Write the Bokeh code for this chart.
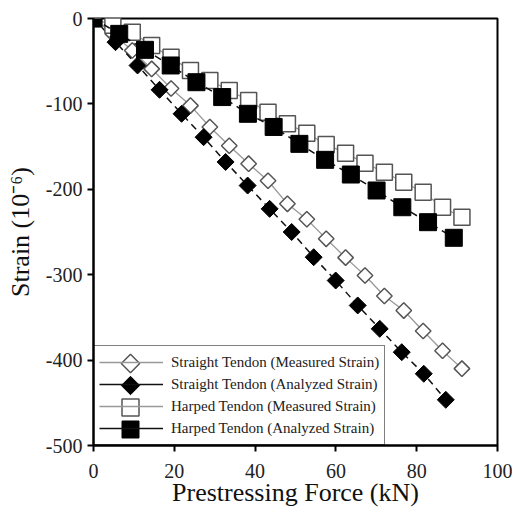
import math
from bokeh.plotting import figure
from bokeh.models import Range1d, Legend, LegendItem, FixedTicker
from bokeh.embed import file_html
from bokeh.resources import INLINE

# Straight tendon, measured strain
sm_x = [0, 4.8, 9.6, 14.4, 19.2, 24.0, 28.8, 33.6, 38.4, 43.2, 48.0, 52.8, 57.6, 62.4, 67.2, 72.0, 76.8, 81.6, 86.4, 91.2]
sm_y = [0, -18, -37.5, -59, -82, -102, -127, -149, -170, -190, -217, -235, -258, -280, -301, -325, -342, -366, -389, -410]

# Straight tendon, analyzed strain
sa_x = [0, 5.45, 10.9, 16.35, 21.8, 27.25, 32.7, 38.15, 43.6, 49.05, 54.5, 59.95, 65.4, 70.85, 76.3, 81.75, 87.2]
sa_y = [0, -27.7, -55, -83.5, -111.6, -139, -168, -195.6, -222.9, -250, -279.5, -306.8, -336, -363.4, -390.7, -416, -446.5]

# Harped tendon, measured strain
hm_x = [0, 4.8, 9.6, 14.4, 19.2, 24.0, 28.8, 33.6, 38.4, 43.2, 48.0, 52.8, 57.6, 62.4, 67.2, 72.0, 76.8, 81.6, 86.4, 91.2]
hm_y = [0, -8, -16, -31.6, -45.3, -61, -72.6, -84.3, -96, -109.7, -123.3, -134.3, -147.5, -157.7, -169.4, -180, -191.7, -203.4, -221, -232.7]

# Harped tendon, analyzed strain
ha_x = [0, 6.37, 12.74, 19.11, 25.48, 31.85, 38.22, 44.59, 50.96, 57.33, 63.7, 70.07, 76.44, 82.81, 89.18]
ha_y = [0, -18, -36.7, -55, -74.6, -92, -111.6, -127, -146.8, -165.5, -182.7, -201.4, -221, -238.5, -256.8]

x_ticks = [0, 20, 40, 60, 80, 100]
y_ticks = [0, -100, -200, -300, -400, -500]

labels = ["Straight Tendon (Measured Strain)", "Straight Tendon (Analyzed Strain)",
          "Harped Tendon (Measured Strain)", "Harped Tendon (Analyzed Strain)"]

FONT = "Liberation Serif"
FW, FH = 404, 427

p = figure(frame_width=FW, frame_height=FH, output_backend="svg", toolbar_location=None,
           x_range=Range1d(0, 100), y_range=Range1d(-500, 0),
           min_border_left=93, min_border_right=15, min_border_top=18, min_border_bottom=65)
p.grid.visible = False
p.outline_line_color = "black"
p.outline_line_width = 2

for ax in (p.xaxis[0], p.yaxis[0]):
    ax.axis_line_width = 2
    ax.major_tick_line_width = 2
    ax.major_tick_in = 0
    ax.major_tick_out = 6
    ax.minor_tick_line_color = None
    ax.major_label_text_font = FONT
    ax.major_label_text_font_size = "20px"
    ax.major_label_text_color = "#222222"
    ax.axis_label_text_font = FONT
    ax.axis_label_text_font_size = "26px"
    ax.axis_label_text_font_style = "normal"
    ax.axis_label_text_color = "#111111"

p.xaxis.ticker = FixedTicker(ticks=x_ticks)
p.yaxis.ticker = FixedTicker(ticks=y_ticks)
p.yaxis.major_label_overrides = {t: str(t) for t in y_ticks}
p.xaxis.major_label_standoff = 12
p.xaxis.axis_label = "Prestressing Force (kN)"
p.yaxis.axis_label = "Strain (10\u207b\u2076)"
p.xaxis.axis_label_standoff = -3
p.yaxis.axis_label_standoff = 8

ang = math.pi / 4

l1 = p.line(sm_x, sm_y, line_color="#999999", line_width=1.3)
m1 = p.scatter(sm_x, sm_y, marker="square", angle=ang, size=11, fill_color="white",
               line_color="#555555", line_width=1.5)

l2 = p.line(sa_x, sa_y, line_color="#111111", line_width=1.5, line_dash="7 5")
m2 = p.scatter(sa_x, sa_y, marker="square", angle=ang, size=12, fill_color="black",
               line_color="black", line_width=1)

l3 = p.line(hm_x, hm_y, line_color="#999999", line_width=1.3)
m3 = p.scatter(hm_x, hm_y, marker="square", size=16, fill_color="white",
               line_color="#555555", line_width=1.5)

l4 = p.line(ha_x, ha_y, line_color="#111111", line_width=1.5, line_dash="7 5")
m4 = p.scatter(ha_x, ha_y, marker="square", size=17, fill_color="black",
               line_color="black", line_width=1)

# solid-line legend proxy (single point: draws nothing in the plot)
pl2 = p.line(sa_x[:1], sa_y[:1], line_color="#111111", line_width=1.5)

PAD, ROW, GW = 5, 22, 64
legend = Legend(items=[
    LegendItem(label=labels[0], renderers=[l1]),
    LegendItem(label=labels[1], renderers=[pl2]),
    LegendItem(label=labels[2], renderers=[l3]),
    LegendItem(label=labels[3], renderers=[pl2]),
], location="bottom_left", level="underlay")
legend.margin = 0
legend.padding = PAD
legend.spacing = 0
legend.border_line_color = "black"
legend.border_line_width = 1.5
legend.label_text_font = FONT
legend.label_text_font_size = "15px"
legend.label_text_color = "#222222"
legend.glyph_width = GW
legend.glyph_height = ROW
legend.label_height = ROW
legend.label_standoff = 8
legend.background_fill_alpha = 0
p.add_layout(legend, "center")

# legend sample markers, placed in frame-pixel space over the legend glyphs
p.extra_x_ranges = {"px": Range1d(0, FW)}
p.extra_y_ranges = {"px": Range1d(0, FH)}
cx = PAD + GW / 2
rows_y = [PAD + ROW * (3 - i) + ROW / 2 for i in range(4)]
styles = [
    dict(marker="square", angle=ang, size=13, fill_color="white", line_color="#555555", line_width=1.5),
    dict(marker="square", angle=ang, size=13, fill_color="black", line_color="black", line_width=1),
    dict(marker="square", angle=0, size=17, fill_color="white", line_color="#555555", line_width=1.5),
    dict(marker="square", angle=0, size=17, fill_color="black", line_color="black", line_width=1),
]
for yy, st in zip(rows_y, styles):
    p.scatter([cx], [yy], x_range_name="px", y_range_name="px", **st)

open("out.html", "w").write(file_html(p, INLINE))
